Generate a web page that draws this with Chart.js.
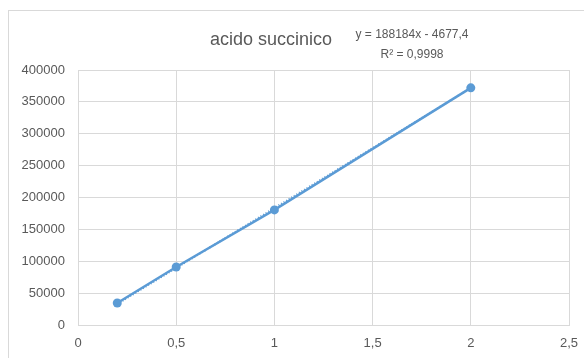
<!DOCTYPE html>
<html lang="it">
<head>
    <meta charset="UTF-8">
    <title>acido succinico</title>
    <style>
        html, body {
            margin: 0;
            padding: 0;
            background: #ffffff;
            overflow: hidden;
        }
        .frame {
            position: absolute;
            left: 8px;
            top: 10px;
            width: 600px;
            height: 360px;
            border: 1px solid #d9d9d9;
            box-sizing: border-box;
        }
        .chart-box {
            position: absolute;
            left: 0;
            top: 0;
            width: 584px;
            height: 358px;
        }
    </style>
</head>
<body>
    <div class="frame"></div>
    <div class="chart-box">
        <canvas id="chart" width="584" height="358"></canvas>
    </div>

    <script src="https://cdn.jsdelivr.net/npm/chart.js"></script>
    <script>
        // data
        const concentrations = [0.2, 0.5, 1, 2];
        const areas = [34500, 91000, 180500, 372000];
        const trendX = [0.2, 2];
        const trendY = [32960, 371690];
        const chartTitle = 'acido succinico';
        const trendLabel = ['y = 188184x - 4677,4', 'R\u00b2 = 0,9998'];

        const textColor = '#595959';
        const gridColor = '#d9d9d9';
        const lineColor = '#5b9bd5';

        // title and equation text drawn on the canvas
        const labelsPlugin = {
            id: 'labels',
            afterDraw(chart) {
                const ctx = chart.ctx;
                ctx.save();
                ctx.fillStyle = textColor;
                ctx.textAlign = 'center';
                ctx.textBaseline = 'middle';
                ctx.font = '18px "Liberation Sans", Arial, sans-serif';
                ctx.fillText(chartTitle, 271, 40);
                ctx.font = '12px "Liberation Sans", Arial, sans-serif';
                ctx.fillText(trendLabel[0], 412, 35);
                ctx.fillText(trendLabel[1], 412, 55);
                ctx.restore();
            }
        };

        new Chart(document.getElementById('chart').getContext('2d'), {
            type: 'scatter',
            data: {
                datasets: [
                    {
                        label: 'trend',
                        data: trendX.map((x, i) => ({ x: x, y: trendY[i] })),
                        showLine: true,
                        borderColor: lineColor,
                        borderWidth: 2,
                        borderDash: [1, 2],
                        pointRadius: 0,
                        fill: false
                    },
                    {
                        label: chartTitle,
                        data: concentrations.map((x, i) => ({ x: x, y: areas[i] })),
                        showLine: true,
                        borderColor: lineColor,
                        backgroundColor: lineColor,
                        borderWidth: 2.5,
                        pointRadius: 4.5,
                        pointBorderWidth: 0,
                        fill: false
                    }
                ]
            },
            plugins: [labelsPlugin],
            options: {
                responsive: false,
                animation: false,
                layout: {
                    padding: { left: 8, top: 70, right: 15, bottom: 0 }
                },
                plugins: {
                    legend: { display: false },
                    tooltip: { enabled: false },
                    title: { display: false }
                },
                scales: {
                    x: {
                        type: 'linear',
                        min: 0,
                        max: 2.5,
                        ticks: {
                            stepSize: 0.5,
                            color: textColor,
                            font: { family: '"Liberation Sans", Arial, sans-serif', size: 13 },
                            padding: 11,
                            maxRotation: 0,
                            callback: v => String(v).replace('.', ',')
                        },
                        grid: { color: gridColor, lineWidth: 1, drawTicks: false },
                        border: { color: gridColor, width: 1 },
                        afterFit: scale => {
                            scale.height = 33;
                            scale.paddingLeft = 0;
                            scale.paddingRight = 0;
                        }
                    },
                    y: {
                        min: 0,
                        max: 400000,
                        ticks: {
                            stepSize: 50000,
                            color: textColor,
                            font: { family: '"Liberation Sans", Arial, sans-serif', size: 13 },
                            padding: 13,
                            callback: v => String(v)
                        },
                        grid: { color: gridColor, lineWidth: 1, drawTicks: false },
                        border: { color: gridColor, width: 1 },
                        afterFit: scale => { scale.width = 70; }
                    }
                }
            }
        });
    </script>
</body>
</html>
